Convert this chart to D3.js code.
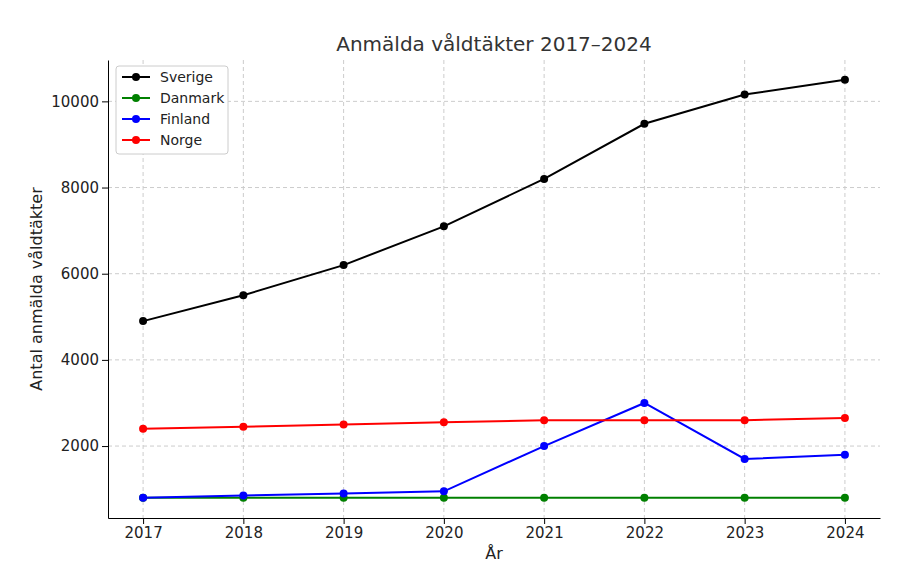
<!DOCTYPE html>
<html><head><meta charset="utf-8">
<script src="https://cdn.jsdelivr.net/npm/d3@7"></script>
<style>
body{margin:0;background:#fff;font-family:"DejaVu Sans",sans-serif;}
.axis text{font-size:15px;fill:#222;}
.grid line{stroke:#ccc;stroke-dasharray:4,3;}
</style></head><body>
<script>
var years = [2017, 2018, 2019, 2020, 2021, 2022, 2023, 2024];
var sverige = [4900, 5500, 6200, 7100, 8200, 9480, 10160, 10500];
var danmark = [800, 800, 800, 800, 800, 800, 800, 800];
var finland = [800, 850, 900, 950, 2000, 3000, 1700, 1800];
var norge = [2400, 2450, 2500, 2550, 2600, 2600, 2600, 2650];
var names = ["Sverige", "Danmark", "Finland", "Norge"];
var colors = ["#000000", "green", "blue", "red"];
var yTicks = [2000, 4000, 6000, 8000, 10000];
var series = [sverige, danmark, finland, norge];

var w = 900, h = 577;
var pLeft = 108, pRight = 880, pTop = 60, pBottom = 518;

var svg = d3.select("body").append("svg").attr("width", w).attr("height", h);

var x = d3.scaleLinear().domain([2016.65, 2024.35]).range([pLeft, pRight]);
var y = d3.scaleLinear().domain([330, 10960]).range([pBottom, pTop]);

// grid
svg.append("g").attr("class", "grid")
    .selectAll("line").data(years).enter().append("line")
    .attr("x1", d => x(d)).attr("x2", d => x(d)).attr("y1", pTop).attr("y2", pBottom);
svg.append("g").attr("class", "grid")
    .selectAll("line").data(yTicks).enter().append("line")
    .attr("x1", pLeft).attr("x2", pRight).attr("y1", d => y(d)).attr("y2", d => y(d));

svg.append("g").attr("class", "axis")
    .attr("transform", "translate(0," + pBottom + ")")
    .call(d3.axisBottom(x).tickValues(years).tickFormat(d3.format("d")).tickSizeOuter(0));
svg.append("g").attr("class", "axis")
    .attr("transform", "translate(" + pLeft + ",0)")
    .call(d3.axisLeft(y).tickValues(yTicks).tickFormat(d3.format("d")).tickSizeOuter(0));
svg.selectAll(".axis path").attr("stroke", "#000");
svg.selectAll(".axis text").attr("font-family", "DejaVu Sans");

var line = d3.line().x((d, i) => x(years[i])).y(d => y(d));
series.forEach(function (s, k) {
    svg.append("path").datum(s).attr("fill", "none").attr("stroke", colors[k])
        .attr("stroke-width", 2).attr("d", line);
    svg.append("g").selectAll("circle").data(s).enter().append("circle")
        .attr("cx", (d, i) => x(years[i])).attr("cy", d => y(d)).attr("r", 4)
        .attr("fill", colors[k]);
});

svg.append("text").attr("x", (pLeft + pRight) / 2).attr("y", 51).attr("text-anchor", "middle")
    .attr("font-size", 20).attr("fill", "#333").text("Anmälda våldtäkter 2017–2024");
svg.append("text").attr("x", (pLeft + pRight) / 2).attr("y", 559).attr("text-anchor", "middle")
    .attr("font-size", 16).attr("fill", "#222").text("År");
svg.append("text").attr("transform", "translate(42," + (pTop + pBottom) / 2 + ") rotate(-90)")
    .attr("text-anchor", "middle").attr("font-size", 16).attr("fill", "#222").text("Antal anmälda våldtäkter");

// legend
var lg = svg.append("g").attr("transform", "translate(116,66)");
lg.append("rect").attr("width", 112).attr("height", 88).attr("rx", 3)
    .attr("fill", "#fff").attr("stroke", "#ccc");
names.forEach(function (n, k) {
    var yy = 11 + k * 21;
    lg.append("line").attr("x1", 6).attr("x2", 34).attr("y1", yy).attr("y2", yy)
        .attr("stroke", colors[k]).attr("stroke-width", 2);
    lg.append("circle").attr("cx", 20).attr("cy", yy).attr("r", 4).attr("fill", colors[k]);
    lg.append("text").attr("x", 44).attr("y", yy + 5).attr("font-size", 14).attr("fill", "#222").text(n);
});
</script>
</body></html>
